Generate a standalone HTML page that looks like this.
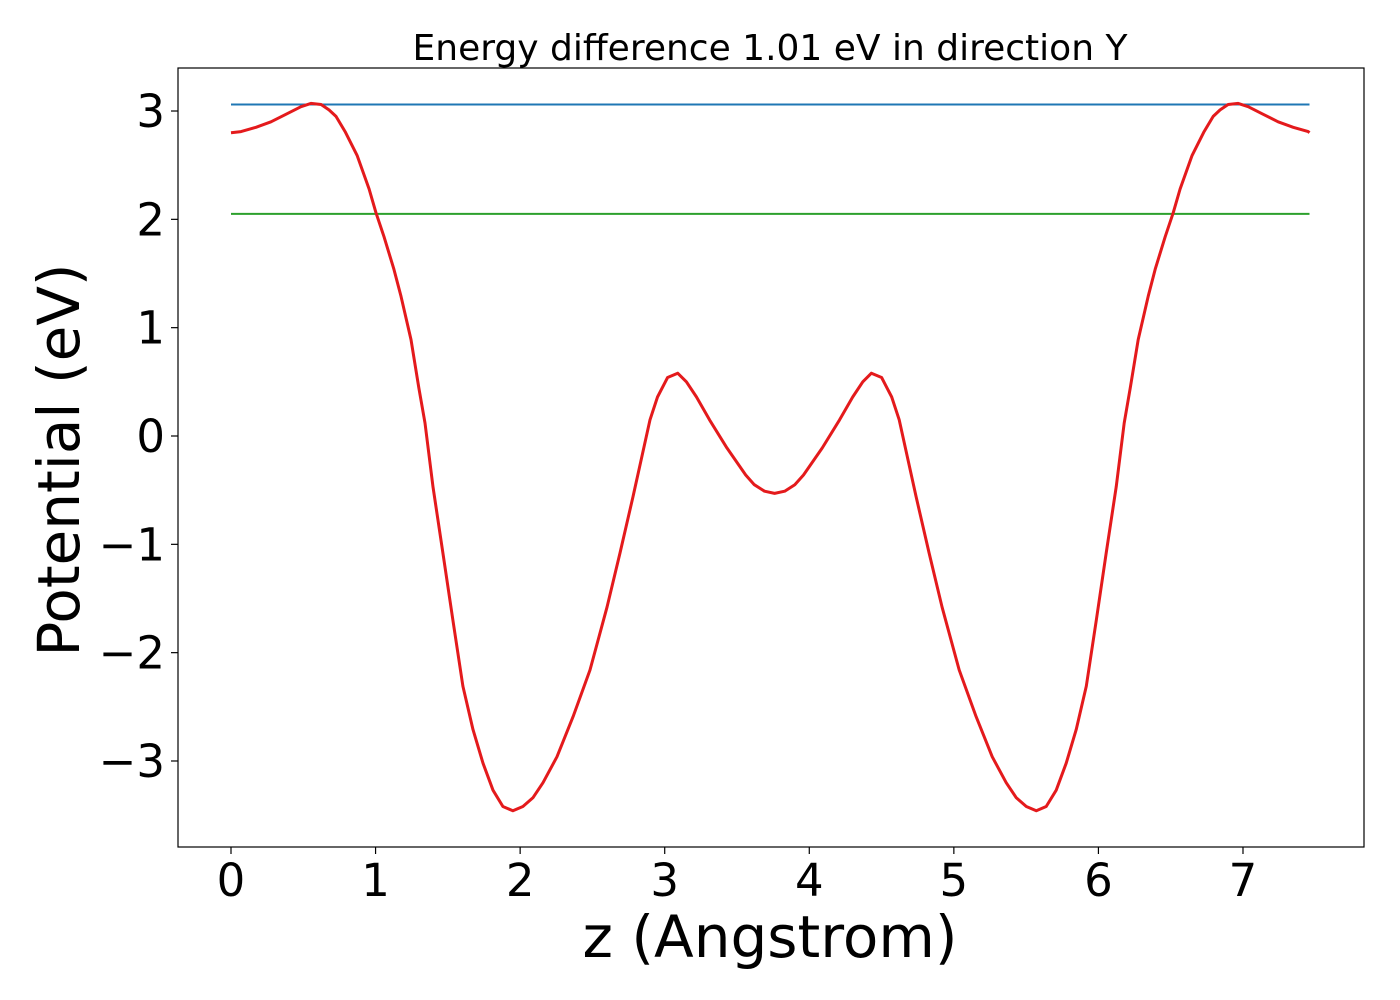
<!DOCTYPE html>
<html><head><meta charset="utf-8"><style>
html,body{margin:0;padding:0;background:#fff;width:1400px;height:1000px;overflow:hidden}
text{font-family:"DejaVu Sans","Liberation Sans",sans-serif;fill:#000}
</style></head><body>
<svg id="chart" width="1400" height="1000" xmlns="http://www.w3.org/2000/svg">
<rect x="0" y="0" width="1400" height="1000" fill="#fff"/>
<g id="plot"></g>
<rect x="178" y="68" width="1186" height="779" fill="none" stroke="#000" stroke-width="1.2"/>
<g id="xticks"></g><g id="yticks"></g>
<text x="770" y="60" font-size="36" text-anchor="middle">Energy difference 1.01 eV in direction Y</text>
<text x="770" y="957" font-size="58" text-anchor="middle">z (Angstrom)</text>
<text transform="translate(79,460) rotate(-90)" font-size="58" text-anchor="middle">Potential (eV)</text>
</svg>
<script>
const zValues=[0.000,0.069,0.173,0.277,0.380,0.484,0.553,0.623,0.678,0.726,0.789,0.872,0.955,1.003,1.058,1.127,1.176,1.245,1.300,1.342,1.397,1.466,1.535,1.604,1.674,1.743,1.812,1.881,1.950,2.019,2.088,2.158,2.255,2.366,2.483,2.601,2.691,2.781,2.898,2.95,3.02,3.09,3.15,3.22,3.31,3.43,3.56,3.62,3.69,3.76,3.83,3.90,3.96,4.09,4.21,4.30,4.37,4.43,4.50,4.57,4.622,4.739,4.829,4.919,5.037,5.154,5.265,5.362,5.432,5.501,5.570,5.639,5.708,5.777,5.846,5.916,5.985,6.054,6.123,6.178,6.220,6.275,6.344,6.393,6.462,6.517,6.565,6.648,6.731,6.794,6.842,6.897,6.967,7.036,7.140,7.243,7.347,7.451,7.46];
const potential=[2.80,2.81,2.85,2.90,2.97,3.04,3.07,3.06,3.01,2.95,2.81,2.59,2.28,2.06,1.84,1.54,1.29,0.89,0.44,0.12,-0.47,-1.08,-1.70,-2.31,-2.71,-3.02,-3.27,-3.42,-3.46,-3.42,-3.34,-3.20,-2.96,-2.59,-2.16,-1.58,-1.08,-0.56,0.15,0.36,0.54,0.58,0.50,0.36,0.15,-0.11,-0.36,-0.45,-0.51,-0.53,-0.51,-0.45,-0.36,-0.11,0.15,0.36,0.50,0.58,0.54,0.36,0.15,-0.56,-1.08,-1.58,-2.16,-2.59,-2.96,-3.20,-3.34,-3.42,-3.46,-3.42,-3.27,-3.02,-2.71,-2.31,-1.70,-1.08,-0.47,0.12,0.44,0.89,1.29,1.54,1.84,2.06,2.28,2.59,2.81,2.95,3.01,3.06,3.07,3.04,2.97,2.90,2.85,2.81,2.80];
const levelHigh=3.06, levelLow=2.05;
const xTicks=[0,1,2,3,4,5,6,7];
const yTicks=[-3,-2,-1,0,1,2,3];
const NS='http://www.w3.org/2000/svg';
const xs=v=>231+v*144.57, ys=v=>436-v*108.33;
const plot=document.getElementById('plot');
function mk(tag,attrs,parent){const e=document.createElementNS(NS,tag);for(const k in attrs)e.setAttribute(k,attrs[k]);parent.appendChild(e);return e;}
const xmin=zValues[0], xmax=zValues[zValues.length-1];
const hl=mk('line',{x1:xs(xmin),x2:xs(xmax),y1:ys(levelHigh),y2:ys(levelHigh),stroke:'#1f77b4','stroke-width':2},plot);


const ll=mk('line',{x1:xs(xmin),x2:xs(xmax),y1:ys(levelLow),y2:ys(levelLow),stroke:'#2ca02c','stroke-width':2},plot);


const pts=zValues.map((z,i)=>xs(z).toFixed(1)+','+ys(potential[i]).toFixed(1)).join(' ');
const pl=mk('polyline',{points:pts,fill:'none',stroke:'#e41a1c','stroke-width':3,'stroke-linejoin':'round'},plot);


const xg=document.getElementById('xticks');
xTicks.forEach(t=>{
  const l=mk('line',{x1:xs(t),x2:xs(t),y1:847,y2:854,stroke:'#000','stroke-width':1.2},xg);
  
  
  const tx=mk('text',{x:xs(t),y:896,'font-size':45,'text-anchor':'middle'},xg);
  tx.textContent=t;
  
  
});
const yg=document.getElementById('yticks');
yTicks.forEach(t=>{
  const l=mk('line',{x1:171,x2:178,y1:ys(t),y2:ys(t),stroke:'#000','stroke-width':1.2},yg);
  
  
  const tx=mk('text',{x:165,y:ys(t)+16,'font-size':45,'text-anchor':'end'},yg);
  tx.textContent=t<0?'\u2212'+(-t):String(t);
  
  
});
</script>
</body></html>
